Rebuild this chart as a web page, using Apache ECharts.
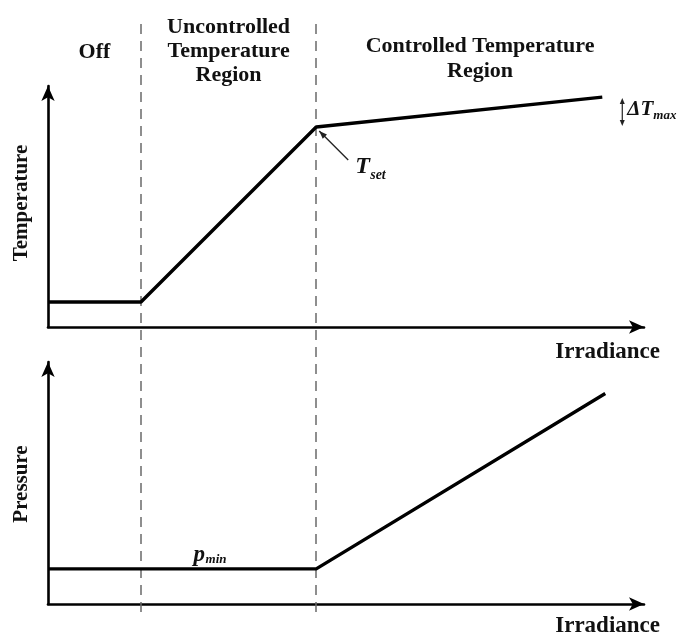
<!DOCTYPE html>
<html>
<head>
<meta charset="utf-8">
<script src="https://cdn.jsdelivr.net/npm/echarts@6/dist/echarts.min.js"></script>
<style>
html,body{margin:0;padding:0;background:#fff;}
#chart{width:685px;height:636px;}
</style>
</head>
<body>
<div id="chart"></div>
<script>
// ---- data (arbitrary schematic units) ----
const xRange = [0, 100];
const regionBounds = [15.6, 45];
const tempX = [0, 15.6, 45, 93];
const temperature = [10.4, 10.4, 83, 95.4];
const pressX = [0, 45, 93.5];
const pressure = [14.5, 14.5, 87];
const regionLabels = ['Off', 'Uncontrolled\nTemperature\nRegion', 'Controlled Temperature\nRegion'];
const axisTitles = {x: 'Irradiance', yTop: 'Temperature', yBottom: 'Pressure'};

const SERIF = '"Liberation Serif","Times New Roman",serif';
const chart = echarts.init(document.getElementById('chart'), null, {renderer: 'canvas'});

function pair(xs, ys) { return xs.map((x, i) => [x, ys[i]]); }

const axisLine = {show: true, symbol: ['none', 'arrow'], symbolSize: [10, 15],
  lineStyle: {color: '#000', width: 2.6}};
function xAx(i, show) {
  return {type: 'value', gridIndex: i, min: xRange[0], max: xRange[1],
    axisLine: show ? axisLine : {show: false}, axisTick: {show: false},
    axisLabel: {show: false}, splitLine: {show: false}};
}
function yAx(i, show) {
  return {type: 'value', gridIndex: i, min: 0, max: 100,
    axisLine: show ? axisLine : {show: false}, axisTick: {show: false},
    axisLabel: {show: false}, splitLine: {show: false}};
}

chart.setOption({
  animation: false,
  backgroundColor: '#fff',
  grid: [
    {left: 48, right: 41, top: 86, bottom: 309},
    {left: 48, right: 41, top: 362, bottom: 32},
    {left: 48, right: 41, top: 18, bottom: 24}
  ],
  xAxis: [xAx(0, true), xAx(1, true), xAx(2, false)],
  yAxis: [yAx(0, true), yAx(1, true), yAx(2, false)],
  series: [
    {type: 'line', xAxisIndex: 2, yAxisIndex: 2, data: [], silent: true, z: 1,
      markLine: {silent: true, symbol: ['none', 'none'], label: {show: false},
        lineStyle: {color: '#6a6a6a', width: 1.5, type: [10, 7]},
        data: regionBounds.map(v => ({xAxis: v}))}},
    {type: 'line', xAxisIndex: 0, yAxisIndex: 0, data: pair(tempX, temperature),
      showSymbol: false, symbol: 'none', z: 5,
      lineStyle: {color: '#000', width: 3.4}},
    {type: 'line', xAxisIndex: 1, yAxisIndex: 1, data: pair(pressX, pressure),
      showSymbol: false, symbol: 'none', z: 5,
      lineStyle: {color: '#000', width: 3.4}}
  ]
});

// ---- annotations positioned from data via the axes ----
const px = (g, p) => chart.convertToPixel({gridIndex: g}, p);
const b0 = px(0, [xRange[0], 0]);
const b1 = px(0, [regionBounds[0], 0]);
const b2 = px(0, [regionBounds[1], 0]);
const bEnd = px(0, [xRange[1], 0]);
const kink = px(0, [tempX[2], temperature[2]]);
const tEnd = px(0, [tempX[3], temperature[3]]);
const pMinPt = px(1, [(regionBounds[0] + regionBounds[1]) / 2, pressure[0]]);
const xAxTop = px(0, [xRange[1], 0]);
const xAxBot = px(1, [xRange[1], 0]);

const hdr = {fontFamily: SERIF, fontWeight: 'bold', fontSize: 22, fill: '#111', align: 'center', verticalAlign: 'middle'};
const g = [];
g.push({type: 'text', x: (b0[0] + b1[0]) / 2, y: 52, style: Object.assign({}, hdr, {text: regionLabels[0]})});
g.push({type: 'text', x: (b1[0] + b2[0]) / 2, y: 51, style: Object.assign({}, hdr, {text: regionLabels[1], lineHeight: 24})});
g.push({type: 'text', x: (b2[0] + bEnd[0]) / 2, y: 59, style: Object.assign({}, hdr, {text: regionLabels[2], lineHeight: 25})});

// axis titles
g.push({type: 'text', x: 22, y: 203, rotation: Math.PI / 2,
  style: Object.assign({}, hdr, {text: axisTitles.yTop, fontSize: 21})});
g.push({type: 'text', x: 22, y: 484, rotation: Math.PI / 2,
  style: Object.assign({}, hdr, {text: axisTitles.yBottom, fontSize: 21})});
g.push({type: 'text', x: xAxTop[0] + 16, y: xAxTop[1] + 25,
  style: Object.assign({}, hdr, {text: axisTitles.x, align: 'right', fontSize: 23})});
g.push({type: 'text', x: xAxBot[0] + 16, y: xAxBot[1] + 22,
  style: Object.assign({}, hdr, {text: axisTitles.x, align: 'right', fontSize: 23})});

// T_set pointer
const a0 = [kink[0] + 32, kink[1] + 33], a1 = [kink[0] + 3, kink[1] + 4];
g.push({type: 'line', shape: {x1: a0[0], y1: a0[1], x2: a1[0], y2: a1[1]}, style: {stroke: '#222', lineWidth: 1.3}});
{
  const ang = Math.atan2(a1[1] - a0[1], a1[0] - a0[0]);
  const L = 8, W = 3;
  const bx = a1[0] - L * Math.cos(ang), by = a1[1] - L * Math.sin(ang);
  g.push({type: 'polygon', shape: {points: [a1,
    [bx + W * Math.sin(ang), by - W * Math.cos(ang)],
    [bx - W * Math.sin(ang), by + W * Math.cos(ang)]]}, style: {fill: '#222'}});
}
const it = {fontFamily: SERIF, fontStyle: 'italic', fontWeight: 'bold', fill: '#111', align: 'left', verticalAlign: 'middle'};
g.push({type: 'text', x: kink[0] + 39, y: kink[1] + 40, style: Object.assign({}, it, {text: 'T', fontSize: 24})});
g.push({type: 'text', x: kink[0] + 54, y: kink[1] + 48, style: Object.assign({}, it, {text: 'set', fontSize: 14})});

// ΔT_max bracket
const dx = tEnd[0] + 20;
const y1 = tEnd[1] + 1, y2 = kink[1] - 1;
g.push({type: 'line', shape: {x1: dx, y1: y1 + 3, x2: dx, y2: y2 - 3}, style: {stroke: '#222', lineWidth: 1.2}});
g.push({type: 'polygon', shape: {points: [[dx, y1], [dx - 2.5, y1 + 6], [dx + 2.5, y1 + 6]]}, style: {fill: '#222'}});
g.push({type: 'polygon', shape: {points: [[dx, y2], [dx - 2.5, y2 - 6], [dx + 2.5, y2 - 6]]}, style: {fill: '#222'}});
g.push({type: 'text', x: dx + 5, y: (y1 + y2) / 2 - 2, style: Object.assign({}, it, {text: 'ΔT', fontSize: 21})});
g.push({type: 'text', x: dx + 31, y: (y1 + y2) / 2 + 4, style: Object.assign({}, it, {text: 'max', fontSize: 13})});

// p_min
g.push({type: 'text', x: pMinPt[0] - 35, y: pMinPt[1] - 14, style: Object.assign({}, it, {text: 'p', fontSize: 23})});
g.push({type: 'text', x: pMinPt[0] - 23, y: pMinPt[1] - 9, style: Object.assign({}, it, {text: 'min', fontSize: 13})});

chart.setOption({graphic: g});
</script>
</body>
</html>
